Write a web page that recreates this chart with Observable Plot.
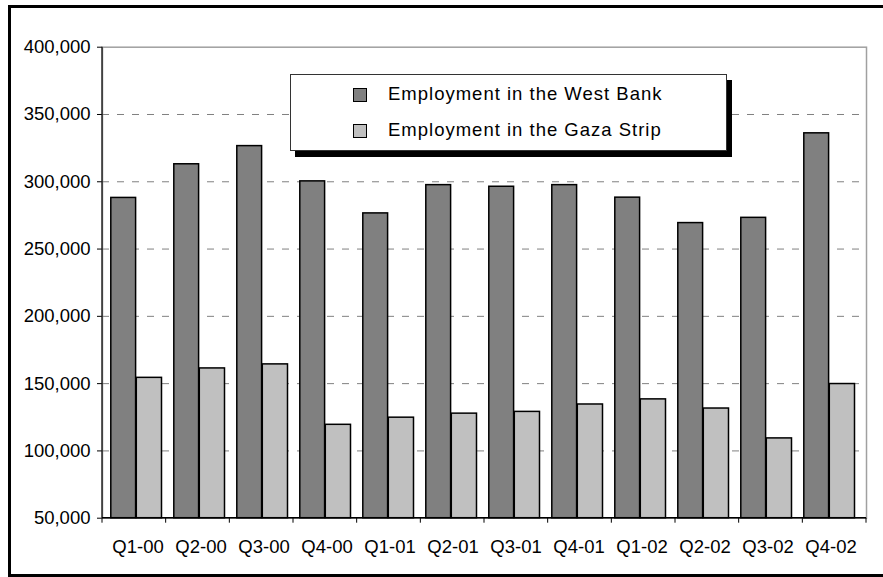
<!DOCTYPE html>
<html>
<head>
<meta charset="utf-8">
<script src="https://cdn.jsdelivr.net/npm/d3@7"></script>
<script src="https://cdn.jsdelivr.net/npm/@observablehq/plot@0.6"></script>
<style>
  html, body { margin: 0; padding: 0; background: #fff; overflow: hidden; }
  #wrap { position: relative; width: 883px; height: 577px; font-family: "Liberation Sans", Arial, sans-serif; }
  #border { position: absolute; left: 8px; top: 5px; width: 890px; height: 572px; box-sizing: border-box;
            border: 3px solid #000; border-right: none; pointer-events: none; }
  #legend { position: absolute; left: 290px; top: 74px; width: 437px; height: 77px; box-sizing: border-box;
            background: #fff; border: 1px solid #333; box-shadow: 5px 6px 0 #000; }
  .item { position: absolute; left: 62px; font-size: 18.5px; letter-spacing: 1px; color: #000; white-space: nowrap; }
  .sw { position: absolute; left: 0; width: 14px; height: 14px; box-sizing: border-box; border: 1px solid #000; }
  .lab { position: absolute; left: 35px; }
</style>
</head>
<body>
<div id="wrap"></div>
<script>
const quarters = ["Q1-00","Q2-00","Q3-00","Q4-00","Q1-01","Q2-01","Q3-01","Q4-01","Q1-02","Q2-02","Q3-02","Q4-02"];
const westBank = [288000, 313000, 326500, 300300, 276500, 297500, 296300, 297500, 288200, 269300, 273200, 336000];
const gazaStrip = [154300, 161300, 164300, 119400, 124700, 127700, 129000, 134500, 138300, 131500, 109300, 149700];
const seriesNames = ["Employment in the West Bank", "Employment in the Gaza Strip"];
const seriesColors = ["#808080", "#c0c0c0"];
const yTicks = [50000, 100000, 150000, 200000, 250000, 300000, 350000, 400000];
const gridTicks = [100000, 150000, 200000, 250000, 300000, 350000];

const rows = quarters.map((q, i) => ({quarter: q, west: westBank[i], gaza: gazaStrip[i]}));

const chart = Plot.plot({
  width: 883,
  height: 577,
  marginLeft: 102,
  marginRight: 17,
  marginTop: 46.7,
  marginBottom: 59.3,
  style: {fontFamily: "'Liberation Sans', Arial, sans-serif", fontSize: "18.5px", color: "#000", background: "transparent"},
  x: {domain: quarters, padding: 0, label: null, tickSize: 0, tickPadding: 22},
  y: {domain: [50000, 400000], ticks: yTicks, tickFormat: d3.format(","), tickSize: 5, tickPadding: 7, label: null},
  marks: [
    Plot.frame({stroke: "#a0a0a0", strokeWidth: 1.5}),
    Plot.ruleY(gridTicks, {stroke: "#808080", strokeDasharray: "7,8", strokeWidth: 1}),
    Plot.barY(rows, {x: "quarter", y1: 50000, y2: "west", fill: seriesColors[0], stroke: "#000", strokeWidth: 1.5, insetLeft: 4.8, insetRight: 33.4}),
    Plot.barY(rows, {x: "quarter", y1: 50000, y2: "gaza", fill: seriesColors[1], stroke: "#000", strokeWidth: 1.5, insetLeft: 30.3, insetRight: 7.5})
  ]
});

// Excel-style axis lines and category boundary ticks, from the plot's own scales
const xs = chart.scale("x"), ys = chart.scale("y");
const [r0, r1] = xs.range;
const step = (r1 - r0) / xs.domain.length;
const yb = Math.max(...ys.range), yt = Math.min(...ys.range);
const g = d3.select(chart).append("g").attr("stroke", "#000");
g.append("line").attr("x1", r0).attr("x2", r0).attr("y1", yt).attr("y2", yb).attr("stroke-width", 1.2);
g.append("line").attr("x1", r0).attr("x2", r1).attr("y1", yb).attr("y2", yb).attr("stroke-width", 1.5);
for (let i = 0; i <= xs.domain.length; i++) {
  const x = r0 + i * step;
  g.append("line").attr("x1", x).attr("x2", x).attr("y1", yb).attr("y2", yb + 5).attr("stroke-width", 1);
}

const wrap = document.getElementById("wrap");
wrap.appendChild(chart);
chart.style.position = "absolute";
chart.style.left = "0px";
chart.style.top = "0px";

const border = document.createElement("div");
border.id = "border";
wrap.appendChild(border);

const legend = document.createElement("div");
legend.id = "legend";
const itemTops = [8, 44];
seriesNames.forEach((name, i) => {
  const item = document.createElement("div");
  item.className = "item";
  item.style.top = itemTops[i] + "px";
  const sw = document.createElement("div");
  sw.className = "sw";
  sw.style.background = seriesColors[i];
  sw.style.top = "5px";
  const lab = document.createElement("span");
  lab.className = "lab";
  lab.textContent = name;
  item.appendChild(sw);
  item.appendChild(lab);
  legend.appendChild(item);
});
wrap.appendChild(legend);
</script>
</body>
</html>
